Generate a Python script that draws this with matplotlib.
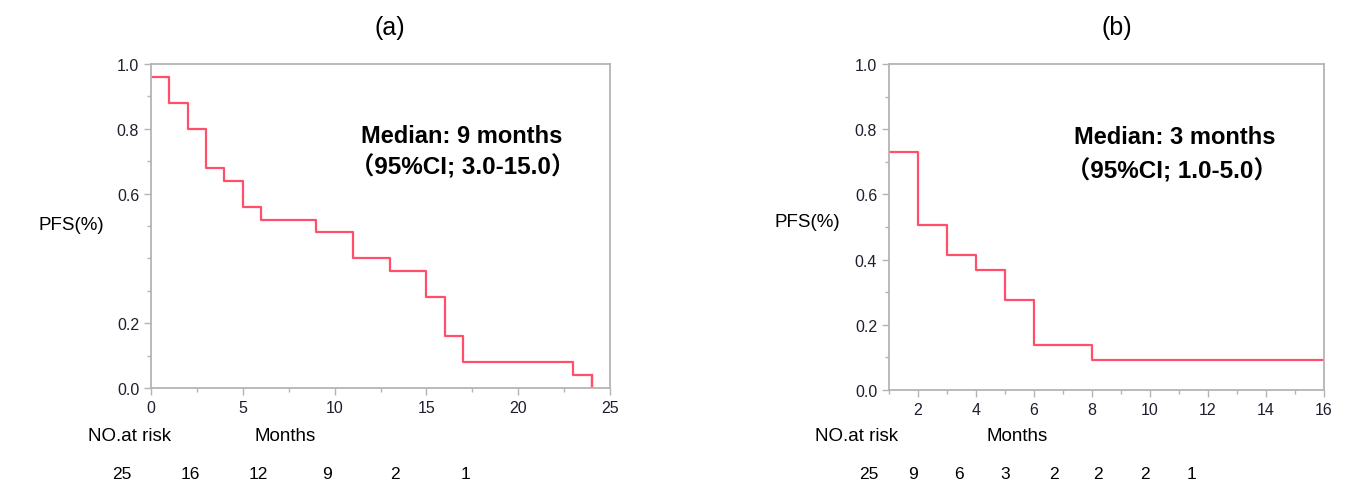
import matplotlib
matplotlib.use('agg')
import matplotlib.pyplot as plt
import numpy as np

plt.rcParams['font.family'] = ['Liberation Sans', 'Noto Sans CJK SC', 'DejaVu Sans']

# ---- data ----
# panel (a): step times (months) and survival just after each step
a_times = [0, 1, 2, 3, 4, 5, 6, 9, 11, 13, 15, 16, 17, 23, 24]
a_surv = [0.96, 0.88, 0.80, 0.68, 0.64, 0.56, 0.52, 0.48, 0.40, 0.36, 0.28, 0.16, 0.08, 0.04, 0.0]
a_risk = ['25', '16', '12', '9', '2', '1']
a_yticks = [0.0, 0.2, 0.6, 0.8, 1.0]

# panel (b)
b_times = [1, 2, 3, 4, 5, 6, 8, 16]
b_surv = [0.73, 0.505, 0.413, 0.367, 0.275, 0.138, 0.092, 0.092]
b_risk = ['25', '9', '6', '3', '2', '2', '2', '1']
b_yticks = [0.0, 0.2, 0.4, 0.6, 0.8, 1.0]

a_median = 'Median: 9 months'
a_ci = '（95%CI; 3.0-15.0）'
b_median = 'Median: 3 months'
b_ci = '（95%CI; 1.0-5.0）'

W, H = 1365, 489
LINE = '#ff4f6b'
SPINE = '#b4b4b4'
TICKC = '#1e1e2e'

fig = plt.figure(figsize=(W / 100, H / 100), dpi=100)


def px(x, y):
    return x / W, 1 - y / H


def style_axes(ax, yticks):
    for s in ax.spines.values():
        s.set_color(SPINE)
        s.set_linewidth(1.3)
    ax.tick_params(which='both', colors=SPINE, labelcolor=TICKC, labelsize=11.5, direction='out')
    ax.tick_params(which='major', length=5, width=1)
    ax.tick_params(which='minor', length=3, width=1)
    ax.set_ylim(0, 1.0)
    ax.set_yticks(yticks)
    ax.set_yticklabels(['%.1f' % v for v in yticks])
    ax.set_yticks(np.arange(0, 1.01, 0.1), minor=True)


# ---------------- panel (a) ----------------
ax1 = fig.add_axes([151 / W, 1 - 389 / H, (610 - 151) / W, (389 - 65) / H])
ax1.step(a_times, a_surv, where='post', color=LINE, lw=1.6)
ax1.plot([a_times[-1], a_times[-1]], [a_surv[-2], a_surv[-1]], color=LINE, lw=1.6)
ax1.set_xlim(0, 25)
ax1.set_xticks(np.arange(0, 26, 5))
ax1.set_xticks(np.arange(0, 25.1, 2.5), minor=True)
style_axes(ax1, a_yticks)
ax1.text(0.676, 0.778, a_median, transform=ax1.transAxes, ha='center', va='center',
         fontsize=17, fontweight='bold')
ax1.text(0.678, 0.685, a_ci, transform=ax1.transAxes, ha='center', va='center',
         fontsize=17.5, fontweight='bold')

fig.text(*px(390, 28), '(a)', ha='center', va='center', fontsize=18)
fig.text(*px(38, 225), 'PFS(%)', ha='left', va='center', fontsize=13.5)
fig.text(*px(88, 437), 'NO.at risk', ha='left', va='center', fontsize=13.5)
fig.text(*px(255, 437), 'Months', ha='left', va='center', fontsize=13.5)
a_risk_x = [122, 190, 258, 327, 395, 466]
for x, lab in zip(a_risk_x, a_risk):
    fig.text(*px(x, 475), lab, ha='center', va='center', fontsize=12.5)

# ---------------- panel (b) ----------------
ax2 = fig.add_axes([889 / W, 1 - 391 / H, (1324 - 889) / W, (391 - 65) / H])
ax2.step(b_times, b_surv, where='post', color=LINE, lw=1.6)
ax2.set_xlim(1, 16)
ax2.set_xticks(np.arange(2, 17, 2))
ax2.set_xticks(np.arange(1, 16.1, 1), minor=True)
style_axes(ax2, b_yticks)
ax2.text(0.657, 0.779, b_median, transform=ax2.transAxes, ha='center', va='center',
         fontsize=17, fontweight='bold')
ax2.text(0.650, 0.675, b_ci, transform=ax2.transAxes, ha='center', va='center',
         fontsize=17.5, fontweight='bold')

fig.text(*px(1117, 28), '(b)', ha='center', va='center', fontsize=18)
fig.text(*px(775, 223), 'PFS(%)', ha='left', va='center', fontsize=13.5)
fig.text(*px(815, 437), 'NO.at risk', ha='left', va='center', fontsize=13.5)
fig.text(*px(986, 437), 'Months', ha='left', va='center', fontsize=13.5)
b_risk_x = [869, 913, 959, 1005, 1054, 1098, 1145, 1191]
for x, lab in zip(b_risk_x, b_risk):
    fig.text(*px(x, 475), lab, ha='center', va='center', fontsize=12.5)

fig.savefig('out.png', dpi=100)
